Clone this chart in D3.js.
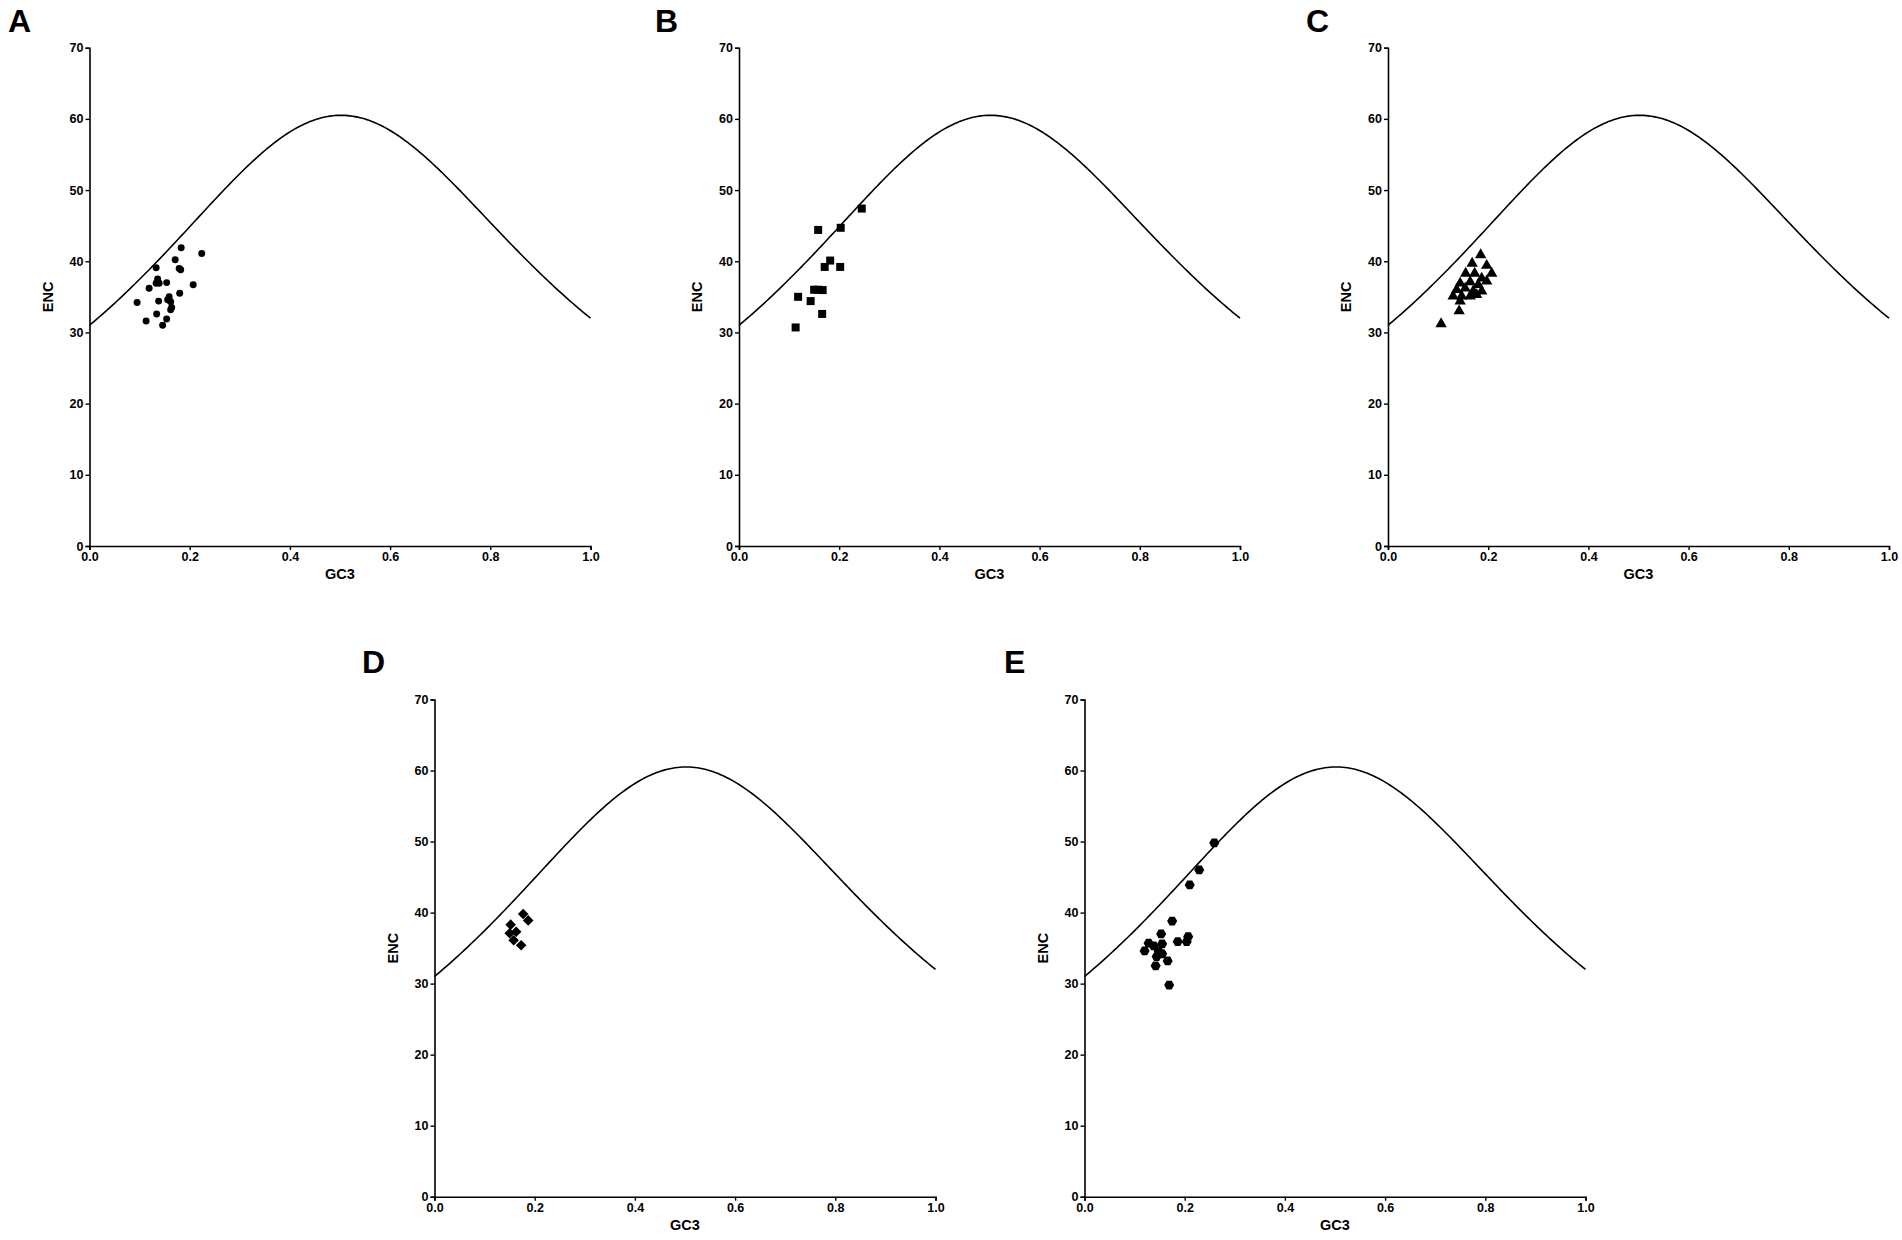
<!DOCTYPE html>
<html>
<head>
<meta charset="utf-8">
<script src="https://cdn.jsdelivr.net/npm/d3@7"></script>
<style>
  html, body { margin: 0; padding: 0; background: #fff; }
  svg { display: block; }
  text { font-family: "Liberation Sans", Arial, sans-serif; font-weight: bold; fill: #000; }
</style>
</head>
<body>
<svg id="chart" width="1902" height="1240"></svg>
<script>
// ---------------- DATA ----------------
const panelLabels = ["A", "B", "C", "D", "E"];
const xTicks = [0.0, 0.2, 0.4, 0.6, 0.8, 1.0];
const yTicks = [0, 10, 20, 30, 40, 50, 60, 70];
const xTitle = "GC3";
const yTitle = "ENC";

// GC3 values and ENC values per panel
const gc3A = [0.183, 0.224, 0.171, 0.133, 0.179, 0.182, 0.136, 0.133, 0.139, 0.154, 0.119, 0.207, 0.180, 0.095, 0.138, 0.159, 0.156, 0.162, 0.164, 0.162, 0.134, 0.113, 0.154, 0.146];
const encA = [41.9, 41.1, 40.2, 39.1, 39.0, 38.8, 37.5, 36.9, 36.9, 37.0, 36.2, 36.7, 35.5, 34.2, 34.4, 35.0, 34.6, 34.3, 33.5, 33.2, 32.6, 31.6, 31.9, 31.0];

const gc3B = [0.245, 0.158, 0.203, 0.182, 0.171, 0.202, 0.150, 0.158, 0.167, 0.118, 0.143, 0.166, 0.113];
const encB = [47.4, 44.4, 44.7, 40.1, 39.2, 39.2, 36.0, 36.0, 35.95, 35.0, 34.4, 32.6, 30.7];

const gc3C = [0.185, 0.168, 0.197, 0.155, 0.173, 0.207, 0.187, 0.197, 0.144, 0.164, 0.180, 0.137, 0.154, 0.170, 0.187, 0.130, 0.147, 0.164, 0.177, 0.144, 0.142, 0.106];
const encC = [40.9, 39.7, 39.4, 38.3, 38.3, 38.3, 37.6, 37.2, 36.9, 37.1, 36.7, 36.0, 36.2, 35.8, 35.8, 35.1, 35.1, 35.1, 35.3, 34.4, 33.0, 31.2];

const gc3D = [0.177, 0.187, 0.152, 0.150, 0.163, 0.158, 0.173];
const encD = [39.8, 38.9, 38.3, 37.1, 37.3, 36.1, 35.4];

const gc3E = [0.259, 0.229, 0.210, 0.175, 0.153, 0.207, 0.204, 0.186, 0.128, 0.155, 0.138, 0.120, 0.148, 0.155, 0.144, 0.166, 0.142, 0.169];
const encE = [49.8, 46.0, 43.9, 38.8, 37.0, 36.6, 35.9, 35.9, 35.7, 35.6, 35.3, 34.6, 34.6, 34.2, 33.8, 33.2, 32.5, 29.8];

// Expected ENC curve (Wright 1990): ENC = 2 + s + 29 / (s^2 + (1 - s)^2)
const expectedENC = s => 2 + s + 29 / (s * s + (1 - s) * (1 - s));

// ---------------- SYMBOLS ----------------
const symbolHexagon = {
  draw(ctx, size) {
    const r = Math.sqrt(size / (1.5 * Math.sqrt(3)));
    for (let i = 0; i < 6; i++) {
      const a = i * Math.PI / 3;
      const x = r * Math.cos(a), y = r * Math.sin(a);
      if (i === 0) ctx.moveTo(x, y); else ctx.lineTo(x, y);
    }
    ctx.closePath();
  }
};
const symbolRotSquare = {
  draw(ctx, size) {
    const h = Math.sqrt(size / 2);
    ctx.moveTo(0, -h); ctx.lineTo(h, 0); ctx.lineTo(0, h); ctx.lineTo(-h, 0); ctx.closePath();
  }
};

// ---------------- LAYOUT ----------------
const panels = [
  { label: panelLabels[0], gc3: gc3A, enc: encA, sym: d3.symbolCircle,  size: 38, left: 89.5,  top: 47.7, bottom: 546,   lx: 8,   ly: 32 },
  { label: panelLabels[1], gc3: gc3B, enc: encB, sym: d3.symbolSquare,  size: 64, left: 739,   top: 47.7, bottom: 546,   lx: 655, ly: 32 },
  { label: panelLabels[2], gc3: gc3C, enc: encC, sym: d3.symbolTriangle,size: 56, left: 1388,  top: 47.7, bottom: 546,   lx: 1306, ly: 32 },
  { label: panelLabels[3], gc3: gc3D, enc: encD, sym: symbolRotSquare,  size: 56, left: 434.5, top: 699.5, bottom: 1196.7, lx: 362, ly: 673 },
  { label: panelLabels[4], gc3: gc3E, enc: encE, sym: symbolHexagon,    size: 66, left: 1084.5,top: 699.5, bottom: 1196.7, lx: 1004, ly: 673 }
];
const panelWidth = 501;

const svg = d3.select("#chart");
const curveS = d3.range(0, 1.0001, 0.005);

panels.forEach(p => {
  const x = d3.scaleLinear().domain([0, 1]).range([p.left, p.left + panelWidth]);
  const y = d3.scaleLinear().domain([0, 70]).range([p.bottom, p.top]);
  const g = svg.append("g");

  // panel letter
  g.append("text").attr("x", p.lx).attr("y", p.ly)
    .style("font-size", "32px").text(p.label);

  // axes
  const xAxis = d3.axisBottom(x).tickValues(xTicks).tickFormat(d3.format(".1f")).tickSizeOuter(0).tickSize(4).tickPadding(2);
  const yAxis = d3.axisLeft(y).tickValues(yTicks).tickFormat(d3.format("d")).tickSizeOuter(0).tickSize(4).tickPadding(2);

  const gx = g.append("g").attr("transform", `translate(0,${p.bottom})`).call(xAxis);
  const gy = g.append("g").attr("transform", `translate(${p.left},0)`).call(yAxis);
  [gx, gy].forEach(a => {
    a.select(".domain").attr("stroke", "#000").attr("stroke-width", 1.6);
    a.selectAll(".tick line").attr("stroke", "#000").attr("stroke-width", 1.4);
    a.selectAll(".tick text").style("font-size", "12.5px").style("font-weight", "bold")
      .style("font-family", '"Liberation Sans", Arial, sans-serif').attr("fill", "#000");
  });

  // axis titles
  g.append("text").attr("x", x(0.5)).attr("y", p.bottom + 33)
    .attr("text-anchor", "middle").style("font-size", "14.5px").text(xTitle);
  g.append("text")
    .attr("transform", `translate(${p.left - 37},${y(35)}) rotate(-90)`)
    .attr("text-anchor", "middle").style("font-size", "14.5px").text(yTitle);

  // expected curve
  const line = d3.line().x(s => x(s)).y(s => y(expectedENC(s))).curve(d3.curveLinear);
  g.append("path").datum(curveS).attr("d", line)
    .attr("fill", "none").attr("stroke", "#000").attr("stroke-width", 1.6);

  // points
  const pts = p.gc3.map((v, i) => ({ gc3: v, enc: p.enc[i] }));
  g.selectAll("path.pt").data(pts).enter().append("path")
    .attr("class", "pt")
    .attr("d", d3.symbol().type(p.sym).size(p.size))
    .attr("transform", d => `translate(${x(d.gc3)},${y(d.enc)})`)
    .attr("fill", "#000");
});
</script>
</body>
</html>
